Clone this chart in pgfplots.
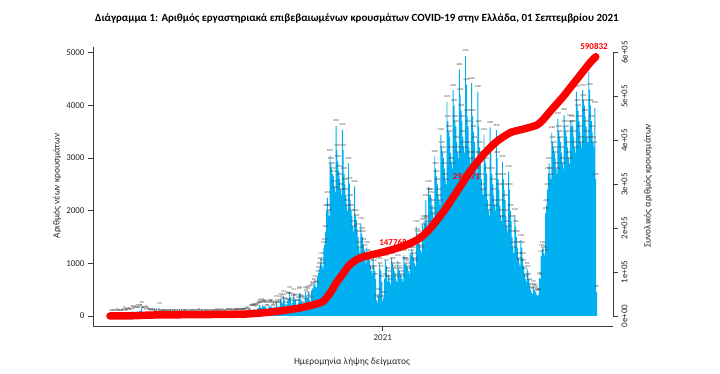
\documentclass[border=0pt]{standalone}
\usepackage{fontspec}
\setmainfont{Carlito}
\usepackage{pgfplots}
\pgfplotsset{compat=1.18}
\usepackage{pgfplotstable}
\definecolor{barblue}{RGB}{0,176,240}
\definecolor{axgray}{RGB}{60,60,60}
\definecolor{linered}{RGB}{255,0,0}

\pgfplotstableread[row sep=\\]{
d v\\
0 1\\1 2\\2 1\\3 3\\4 0\\5 0\\6 3\\
7 4\\8 22\\9 14\\10 2\\11 7\\12 11\\13 16\\
14 10\\15 27\\16 73\\17 38\\18 18\\19 21\\20 56\\
21 31\\22 46\\23 31\\24 35\\25 94\\26 71\\27 48\\
28 78\\29 71\\30 74\\31 95\\32 64\\33 61\\34 102\\
35 99\\36 152\\37 60\\38 62\\39 62\\40 20\\41 77\\
42 60\\43 56\\44 31\\45 25\\46 10\\47 19\\48 35\\
49 15\\50 25\\51 13\\52 12\\53 7\\54 21\\55 8\\
56 150\\57 14\\58 16\\59 15\\60 12\\61 9\\62 8\\
63 10\\64 13\\65 6\\66 3\\67 10\\68 8\\69 5\\
70 15\\71 6\\72 10\\73 12\\74 10\\75 5\\76 4\\
77 9\\78 11\\79 8\\80 10\\81 3\\82 5\\83 12\\
84 10\\85 16\\86 6\\87 3\\88 3\\89 9\\90 4\\
91 2\\92 16\\93 15\\94 7\\95 9\\96 2\\97 8\\
98 11\\99 12\\100 3\\101 35\\102 15\\103 17\\104 8\\
105 2\\106 14\\107 3\\108 4\\109 15\\110 12\\111 7\\
112 6\\113 3\\114 13\\115 11\\116 9\\117 11\\118 11\\
119 3\\120 12\\121 22\\122 10\\123 8\\124 24\\125 13\\
126 17\\127 14\\128 21\\129 4\\130 7\\131 12\\132 15\\
133 30\\134 24\\135 19\\136 7\\137 18\\138 30\\139 27\\
140 12\\141 17\\142 31\\143 29\\144 20\\145 19\\146 25\\
147 24\\148 19\\149 35\\150 28\\151 32\\152 44\\153 26\\
154 30\\155 46\\156 57\\157 52\\158 37\\159 25\\160 97\\
161 110\\162 100\\163 124\\164 121\\165 93\\166 127\\167 105\\
168 150\\169 156\\170 205\\171 162\\172 154\\173 217\\174 182\\
175 190\\176 182\\177 169\\178 103\\179 98\\180 158\\181 193\\
182 178\\183 200\\184 162\\185 110\\186 121\\187 168\\188 159\\
189 270\\190 199\\191 154\\192 169\\193 190\\194 316\\195 267\\
196 240\\197 372\\198 310\\199 232\\200 163\\201 221\\202 342\\
203 325\\204 453\\205 338\\206 198\\207 245\\208 297\\209 411\\
210 315\\211 293\\212 200\\213 190\\214 254\\215 426\\216 441\\
217 301\\218 276\\219 248\\220 158\\221 212\\222 446\\223 396\\
224 350\\225 420\\226 460\\227 300\\228 250\\229 480\\230 520\\
231 540\\232 600\\233 650\\234 560\\235 540\\236 750\\237 820\\
238 900\\239 1000\\240 1100\\241 950\\242 900\\243 1300\\244 1350\\
245 1600\\246 2000\\247 2250\\248 2000\\249 1900\\250 3050\\251 2900\\
252 2800\\253 2700\\254 2650\\255 2450\\256 2350\\257 3610\\258 3150\\
259 2930\\260 2750\\261 2600\\262 2400\\263 2300\\264 3540\\265 3150\\
266 2700\\267 2500\\268 2300\\269 2100\\270 2000\\271 2900\\272 2520\\
273 2200\\274 2000\\275 1900\\276 1700\\277 1600\\278 2460\\279 1900\\
280 1820\\281 1650\\282 1500\\283 1300\\284 1200\\285 1760\\286 1560\\
287 1500\\288 1350\\289 1250\\290 1100\\291 1000\\292 1300\\293 1150\\
294 1100\\295 1050\\296 950\\297 850\\298 800\\299 1110\\300 950\\
301 850\\302 700\\303 300\\304 250\\305 400\\306 1000\\307 900\\
308 850\\309 650\\310 280\\311 350\\312 700\\313 1050\\314 950\\
315 650\\316 800\\317 750\\318 650\\319 600\\320 1100\\321 1000\\
322 900\\323 850\\324 800\\325 700\\326 650\\327 1050\\328 900\\
329 850\\330 800\\331 750\\332 700\\333 650\\334 1150\\335 1000\\
336 1000\\337 950\\338 900\\339 850\\340 800\\341 1200\\342 1150\\
343 1250\\344 1200\\345 1100\\346 1000\\347 950\\348 1700\\349 1550\\
350 1500\\351 1450\\352 1350\\353 1250\\354 1200\\355 1730\\356 1650\\
357 1800\\358 1750\\359 2200\\360 1800\\361 1700\\362 2450\\363 2300\\
364 2300\\365 2250\\366 2100\\367 1950\\368 1850\\369 3030\\370 2800\\
371 2650\\372 2500\\373 2300\\374 2200\\375 2100\\376 3440\\377 3200\\
378 3100\\379 3000\\380 2800\\381 2600\\382 2500\\383 4070\\384 3700\\
385 3500\\386 3400\\387 3100\\388 2900\\389 2800\\390 4290\\391 4000\\
392 3700\\393 3600\\394 3300\\395 3100\\396 3000\\397 4680\\398 4200\\
399 3900\\400 3700\\401 3400\\402 3200\\403 3100\\404 4940\\405 4400\\
406 3800\\407 3600\\408 3200\\409 3000\\410 2900\\411 4420\\412 3800\\
413 3500\\414 3300\\415 3000\\416 2800\\417 2700\\418 4260\\419 3600\\
420 3200\\421 3000\\422 2600\\423 2400\\424 2300\\425 3440\\426 3000\\
427 2900\\428 2700\\429 2200\\430 2000\\431 1900\\432 3580\\433 3100\\
434 2700\\435 2500\\436 2300\\437 2100\\438 2000\\439 3530\\440 3000\\
441 2600\\442 2400\\443 2100\\444 1900\\445 1800\\446 2930\\447 2600\\
448 2400\\449 2200\\450 1900\\451 1700\\452 1600\\453 2740\\454 2400\\
455 2000\\456 1800\\457 1500\\458 1300\\459 1200\\460 1920\\461 1700\\
462 1500\\463 1300\\464 1100\\465 1000\\466 950\\467 1440\\468 1300\\
469 1100\\470 950\\471 800\\472 700\\473 650\\474 900\\475 850\\
476 700\\477 600\\478 500\\479 450\\480 420\\481 550\\482 500\\
483 480\\484 450\\485 400\\486 380\\487 400\\488 720\\489 700\\
490 1130\\491 1250\\492 1300\\493 1200\\494 1150\\495 1950\\496 2100\\
497 2400\\498 2700\\499 2900\\500 2700\\501 2600\\502 3480\\503 3300\\
504 3200\\505 3100\\506 3000\\507 2800\\508 2700\\509 3750\\510 3500\\
511 3400\\512 3300\\513 3100\\514 2900\\515 2800\\516 3820\\517 3600\\
518 3500\\519 3400\\520 3200\\521 3000\\522 2900\\523 3720\\524 3600\\
525 3700\\526 3600\\527 3400\\528 3200\\529 3100\\530 4260\\531 4000\\
532 3900\\533 3700\\534 3500\\535 3300\\536 3200\\537 4290\\538 4100\\
539 4000\\540 3800\\541 3600\\542 3400\\543 3300\\544 4640\\545 4300\\
546 4000\\547 3700\\548 3500\\549 3300\\550 3200\\551 3950\\552 2600\\
553 460\\
}\daily

\pgfplotstableread[row sep=\\]{
d c\\
0 0\\ 20 150\\ 35 1300\\ 50 2300\\ 70 2700\\ 100 3100\\ 130 3700\\
155 4500\\ 175 7500\\ 195 12000\\ 215 18000\\ 230 25000\\ 242 33000\\
250 52000\\ 257 75000\\ 265 97000\\ 272 116000\\ 280 128000\\ 288 135000\\
307 144000\\ 322 152000\\ 337 162000\\ 352 177000\\ 364 200000\\ 379 238000\\
394 283000\\ 409 329000\\ 424 367000\\ 439 397000\\ 455 418000\\ 470 426000\\
485 435000\\ 492 447000\\ 500 466000\\ 515 500000\\ 530 538000\\ 545 576000\\
552 590832\\
}\cumul

\begin{document}
\begin{tikzpicture}
\useasboundingbox (-93bp,-48bp) rectangle (627bp,326bp);
\begin{axis}[
  at={(0,0)}, anchor=south west,
  scale only axis, width=520bp, height=279.3bp,
  xmin=-19.3, xmax=571.6, ymin=-190, ymax=5114,
  axis lines*=left,
  axis line style={-, line width=0.9bp, draw=axgray},
  xtick={310}, xticklabels={2021},
  ytick={0,1000,2000,3000,4000,5000},
  tick align=outside, major tick length=5bp,
  tick style={line width=0.9bp, draw=axgray},
  ticklabel style={font=\fontsize{9}{10}\selectfont, text=black!85},
  /pgf/number format/1000 sep={},
  /pgf/number format/assume math mode=true,
  ybar, bar width=1.05,
  nodes near coords,
  every node near coord/.append style={font=\fontsize{3}{3}\selectfont, text=black!75, anchor=center, yshift=5bp, inner sep=0pt},
  clip=false,
]
\addplot[fill=barblue, draw=none] table[x=d, y=v] {\daily};
\end{axis}
\begin{axis}[
  at={(0,0)}, anchor=south west,
  scale only axis, width=520bp, height=279.3bp,
  xmin=-19.3, xmax=571.6, ymin=-22800, ymax=613700,
  axis x line=none, axis y line*=right,
  y axis line style={draw=none},
  ytick={0,100000,200000,300000,400000,500000,600000},
  yticklabels={0e+00,1e+05,2e+05,3e+05,4e+05,5e+05,6e+05},
  scaled y ticks=false,
  tick align=outside, major tick length=5bp,
  tick style={line width=0.9bp, draw=axgray},
  yticklabel style={font=\fontsize{9}{10}\selectfont, text=black!85, rotate=90, anchor=north},
  clip=false,
]
\draw[axgray, line width=0.9bp] (axis cs:571.6,0) -- (axis cs:571.6,600000);
\node[text=linered, font=\bfseries\fontsize{9}{10}\selectfont] at (axis cs:405,317500) {296371};
\addplot[linered, line width=7.5bp, line cap=round, line join=round, smooth, tension=0.4] table[x=d, y=c] {\cumul};
\node[text=linered, font=\bfseries\fontsize{9}{10}\selectfont] at (axis cs:321.6,168600) {147768};
\node[text=linered, font=\bfseries\fontsize{9}{10}\selectfont] at (axis cs:550,613800) {590832};
\end{axis}
\node[font=\bfseries\fontsize{11}{13}\selectfont] at (264bp,308bp) {Διάγραμμα 1: Αριθμός εργαστηριακά επιβεβαιωμένων κρουσμάτων COVID-19 στην Ελλάδα, 01 Σεπτεμβρίου 2021};
\node[rotate=90, font=\fontsize{9.5}{11}\selectfont, text=black!85] at (-36bp,140bp) {Αριθμός νέων κρουσμάτων};
\node[rotate=90, font=\fontsize{9.5}{11}\selectfont, text=black!85] at (555bp,140bp) {Συνολικός αριθμός κρουσμάτων};
\node[font=\fontsize{9.5}{11}\selectfont, text=black!85] at (259bp,-36bp) {Ημερομηνία λήψης δείγματος};
\end{tikzpicture}
\end{document}
